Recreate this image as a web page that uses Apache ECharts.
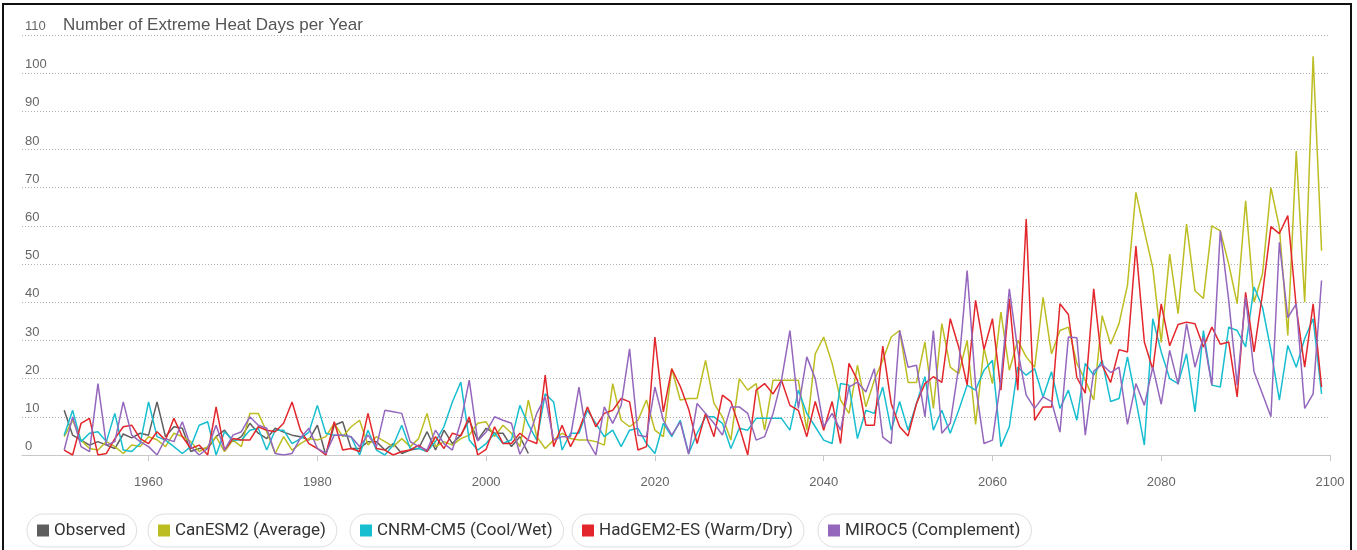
<!DOCTYPE html>
<html><head><meta charset="utf-8">
<script src="https://cdn.jsdelivr.net/npm/echarts@6/dist/echarts.min.js"></script>
<style>
html,body{margin:0;padding:0;background:#fff;}
#wrap{position:relative;width:1357px;height:550px;overflow:hidden;}
#chart{position:absolute;left:0;top:0;width:1357px;height:550px;}
#frame{position:absolute;left:2px;top:3px;width:1346px;height:600px;border:2px solid #111;pointer-events:none;}
</style></head>
<body><div id="wrap"><div id="chart"></div><div id="frame"></div></div>
<script>
// ---- data ----
const startYear = 1950;
const seriesNames = ['Observed', 'CanESM2 (Average)', 'CNRM-CM5 (Cool/Wet)', 'HadGEM2-ES (Warm/Dry)', 'MIROC5 (Complement)'];
const xTickLabels = [1960, 1980, 2000, 2020, 2040, 2060, 2080, 2100];

const observed = [
 11.7, 5.2, 3.9, 2.6, 3.5, 2.6, 1.7, 5.5, 4.5, 5.7,
 5.2, 13.9, 4.8, 7.4, 7.0, 0.9, 1.7, 1.7, 4.8, 6.5,
 3.5, 4.8, 8.3, 5.7, 4.3, 7.0, 6.0, 5.2, 4.8, 3.9,
 7.8, 0.0, 7.8, 8.7, 1.7, 1.7, 3.5, 3.5, 1.3, 3.0,
 0.4, 1.3, 1.7, 6.1, 1.3, 6.5, 3.0, 5.2, 9.1, 3.9,
 7.0, 5.7, 5.7, 2.2, 4.8, 0.4
];
const canesm2 = [
 4.8, 9.1, 3.9, 1.7, 1.3, 3.5, 2.2, 0.4, 2.6, 2.2,
 4.8, 4.0, 2.2, 5.7, 4.8, 3.5, 0.9, 2.2, 4.8, 0.9,
 3.9, 2.2, 10.9, 10.9, 6.1, 0.4, 4.8, 1.3, 3.0, 4.3,
 3.9, 4.8, 8.3, 4.8, 7.4, 9.1, 2.6, 4.8, 3.5, 2.2,
 4.3, 2.2, 4.3, 10.9, 2.2, 3.5, 2.6, 4.3, 5.2, 8.3,
 8.7, 4.8, 7.8, 5.7, 2.2, 14.4, 4.8, 1.7, 3.9, 5.7,
 4.3, 3.9, 3.9, 3.5, 2.6, 18.7, 9.1, 7.4, 9.1, 14.4,
 6.5, 4.8, 22.6, 14.4, 14.8, 14.8, 24.8, 13.5, 10.0, 3.9,
 20.0, 17.0, 18.7, 6.5, 19.6, 19.6, 19.6, 19.6, 6.5, 26.5,
 30.9, 24.0, 14.4, 10.9, 23.5, 12.6, 19.6, 24.8, 30.9, 32.6,
 19.0, 19.0, 29.6, 12.2, 34.4, 23.0, 21.3, 30.0, 8.0, 28.0,
 18.7, 37.4, 22.2, 30.0, 25.7, 23.0, 41.3, 26.5, 32.6, 33.5,
 24.0, 19.6, 14.4, 36.5, 29.0, 34.4, 44.5, 68.8, 58.7, 49.0,
 29.5, 52.6, 37.0, 60.5, 43.0, 41.0, 60.0, 58.7, 50.0, 39.6,
 66.6, 40.0, 47.4, 70.0, 59.6, 31.3, 79.6, 40.0, 104.4, 53.5
];
const cnrm = [
 5.2, 11.7, 3.5, 5.7, 6.1, 3.5, 10.9, 1.3, 0.9, 3.0,
 13.9, 4.8, 3.9, 2.2, 0.4, 2.2, 7.8, 8.7, 0.0, 6.1,
 3.9, 3.9, 6.5, 7.0, 1.3, 6.5, 6.5, 3.0, 4.3, 6.0,
 13.0, 5.7, 5.2, 5.2, 4.8, 0.0, 6.5, 1.3, 0.0, 2.6,
 7.8, 1.7, 1.7, 0.9, 3.5, 7.4, 13.9, 19.1, 3.9, 1.3,
 3.0, 5.7, 3.0, 4.0, 13.0, 8.0, 3.9, 16.0, 13.9, 1.3,
 5.7, 5.7, 11.7, 8.3, 4.8, 6.5, 2.2, 6.5, 7.0, 3.0,
 0.4, 8.3, 4.8, 9.1, 0.4, 5.7, 10.0, 10.0, 8.3, 1.7,
 7.0, 6.5, 9.6, 9.6, 9.6, 9.6, 6.5, 17.0, 10.9, 7.4,
 3.9, 3.0, 18.7, 18.3, 4.3, 11.7, 10.9, 17.8, 6.5, 14.0,
 6.5, 13.5, 20.5, 6.5, 11.7, 5.7, 11.7, 18.3, 17.0, 22.2,
 24.8, 2.2, 7.4, 23.0, 20.9, 22.6, 15.2, 21.8, 12.2, 17.0,
 9.1, 24.0, 20.9, 24.8, 14.0, 14.8, 25.7, 14.4, 2.6, 35.7,
 27.0, 20.0, 18.7, 26.5, 11.3, 32.6, 18.3, 17.8, 33.5, 32.6,
 28.3, 44.0, 38.7, 27.4, 14.4, 28.7, 23.0, 30.5, 35.7, 16.0
];
const hadgem = [
 1.3, 0.0, 8.3, 9.6, 0.0, 0.4, 4.3, 7.4, 7.8, 4.3,
 3.0, 6.1, 3.9, 9.6, 4.8, 1.7, 2.6, 0.0, 12.6, 1.3,
 4.3, 3.9, 3.9, 7.4, 6.5, 6.1, 8.3, 13.9, 6.5, 3.0,
 1.7, 0.0, 8.7, 1.3, 1.7, 0.9, 10.9, 1.7, 1.3, 0.0,
 0.9, 1.3, 2.6, 0.9, 4.8, 1.7, 5.7, 5.0, 10.0, 0.0,
 1.5, 7.4, 3.0, 3.0, 5.7, 3.9, 3.0, 20.9, 2.2, 7.8,
 2.2, 6.5, 12.6, 7.4, 10.9, 11.7, 14.8, 13.9, 1.3, 2.2,
 30.9, 11.3, 22.6, 18.0, 12.0, 3.0, 10.9, 4.8, 15.7, 14.0,
 7.4, 0.0, 17.0, 18.7, 16.0, 19.6, 13.0, 11.7, 4.8, 14.0,
 6.5, 14.0, 3.0, 24.0, 19.6, 7.8, 7.8, 28.5, 13.5, 7.4,
 5.0, 13.5, 18.7, 20.5, 19.0, 35.7, 28.3, 18.3, 40.5, 27.6,
 35.7, 17.0, 40.9, 17.0, 61.8, 9.1, 12.6, 12.6, 39.6, 36.8,
 20.3, 16.2, 43.5, 23.5, 19.0, 27.6, 27.0, 54.7, 29.6, 22.4,
 39.6, 28.6, 34.2, 34.8, 34.4, 28.3, 33.5, 29.0, 29.6, 15.2,
 42.6, 27.0, 42.2, 59.8, 58.0, 62.7, 38.7, 23.0, 39.6, 17.8
];
const miroc5 = [
 1.3, 10.0, 2.2, 0.9, 18.7, 2.6, 3.5, 13.9, 5.2, 3.5,
 2.2, 0.0, 4.3, 3.5, 8.7, 2.2, 0.0, 1.7, 7.8, 1.3,
 5.2, 6.1, 10.0, 7.8, 7.0, 0.4, 0.0, 0.4, 4.5, 7.0,
 1.7, 0.4, 5.2, 5.2, 4.8, 2.2, 5.2, 2.2, 11.7, 11.3,
 10.9, 3.5, 2.2, 1.3, 6.5, 3.0, 1.3, 8.7, 19.6, 3.7,
 6.0, 10.0, 9.1, 8.3, 0.2, 4.3, 10.9, 15.2, 3.9, 4.8,
 4.8, 17.8, 3.9, 0.0, 12.6, 8.3, 13.0, 27.8, 5.2, 4.8,
 17.8, 9.1, 5.2, 8.7, 0.2, 13.5, 10.9, 8.3, 5.2, 12.6,
 12.6, 10.9, 3.9, 4.8, 10.9, 19.6, 32.6, 12.2, 25.7, 20.0,
 7.4, 10.9, 6.5, 17.8, 19.1, 16.5, 22.6, 4.7, 3.0, 32.6,
 23.0, 23.5, 10.0, 32.6, 5.7, 8.3, 23.0, 48.3, 18.3, 3.0,
 3.9, 19.6, 43.5, 27.4, 15.7, 12.2, 15.2, 14.0, 6.0, 30.9,
 30.7, 5.2, 22.0, 23.7, 21.6, 23.0, 8.0, 18.7, 13.0, 23.0,
 13.3, 27.4, 18.5, 34.4, 23.0, 30.9, 18.3, 58.7, 40.5, 18.3,
 41.3, 21.8, 16.0, 10.0, 55.7, 36.0, 39.6, 12.2, 16.0, 45.7
];

// ---- chart ----
const seriesValues = [observed, canesm2, cnrm, hadgem, miroc5];
const colors = ['#5e5e5e', '#bcbd22', '#17becf', '#e3262b', '#9467bd'];
const legendLefts = [27, 148, 350, 572, 818];

const chart = echarts.init(document.getElementById('chart'), null, {renderer: 'canvas'});
const option = {
  animation: false,
  backgroundColor: '#fff',
  title: {
    text: 'Number of Extreme Heat Days per Year',
    left: 63, top: 17, padding: 0,
    textStyle: {fontSize: 17, fontWeight: 'normal', color: '#555', fontFamily: 'Liberation Sans, Arial, sans-serif'}
  },
  grid: {left: 22, right: 27, top: 35, bottom: 95},
  xAxis: {
    type: 'value', min: 1945, max: 2100, splitNumber: 8, offset: 11,
    axisLine: {lineStyle: {color: '#c8c8c8', width: 1}},
    axisTick: {show: true, customValues: xTickLabels, length: 6, lineStyle: {color: '#c8c8c8'}},
    axisLabel: {customValues: xTickLabels, color: '#666', fontSize: 13, margin: 10,
      fontFamily: 'Liberation Sans, Arial, sans-serif',
      formatter: v => (v % 20 === 0 ? String(v) : '')},
    splitLine: {show: false}
  },
  yAxis: {
    type: 'value', min: 0, max: 110, interval: 10,
    axisLine: {show: false}, axisTick: {show: false},
    axisLabel: {inside: true, margin: 3, verticalAlign: 'bottom', padding: [0, 0, 2, 0],
      color: '#666', fontSize: 13, fontFamily: 'Liberation Sans, Arial, sans-serif'},
    splitLine: {lineStyle: {type: [1, 2], color: '#b0b0b0', width: 1}}
  },
  legend: seriesNames.map((n, i) => ({
    data: [n], left: legendLefts[i], top: 514, icon: 'rect',
    itemWidth: 12, itemHeight: 12, itemGap: 0,
    padding: [8, 11, 8, 10], borderColor: '#dedede', borderWidth: 1, borderRadius: 17,
    backgroundColor: '#fff', selectedMode: false,
    textStyle: {fontSize: 17, color: '#333', fontFamily: 'Roboto, sans-serif'}
  })),
  series: seriesNames.map((n, i) => ({
    name: n, type: 'line', showSymbol: false, symbol: 'none',
    color: colors[i],
    lineStyle: {width: 1.5, color: colors[i]},
    data: seriesValues[i].map((v, k) => [startYear + k, v])
  }))
};
chart.setOption(option);
</script>
</body></html>
